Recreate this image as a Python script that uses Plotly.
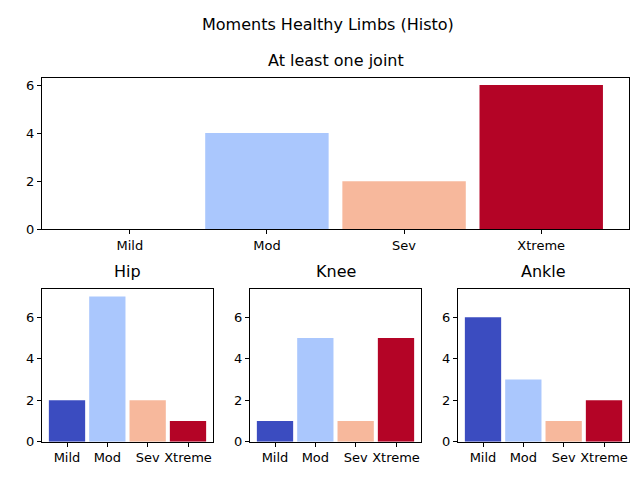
import plotly.graph_objects as go

categories = ["Mild", "Mod", "Sev", "Xtreme"]
colors = ["#3b4cc0", "#aac7fd", "#f7b89c", "#b40426"]
at_least_one = [0, 4, 2, 6]
hip = [2, 7, 2, 1]
knee = [1, 5, 1, 5]
ankle = [6, 3, 1, 2]

W, H = 640, 480
fig = go.Figure()

panels = [
    ("At least one joint", at_least_one, (34, 621), (71, 225), 6.3),
    ("Hip", hip, (34, 205), (286, 441), 7.35),
    ("Knee", knee, (242, 413), (286, 441), 7.35),
    ("Ankle", ankle, (450, 621), (286, 441), 7.35),
]

font = dict(family="DejaVu Sans", size=13, color="black")
layout = dict(width=W, height=H, margin=dict(l=0, r=0, t=0, b=0),
              plot_bgcolor="white", paper_bgcolor="white", showlegend=False,
              bargap=0.1, font=font, annotations=[])

for i, (title, vals, (x0, x1), (y0, y1), ymax) in enumerate(panels):
    n = "" if i == 0 else str(i + 1)
    fig.add_trace(go.Bar(x=list(range(4)), y=vals, marker=dict(color=colors, line=dict(width=0)),
                         width=0.9, xaxis="x" + n, yaxis="y" + n))
    common = dict(showline=True, linecolor="black", linewidth=1, mirror=True,
                  showgrid=False, zeroline=False, ticks="outside", ticklen=4,
                  tickcolor="black", tickfont=font)
    layout["xaxis" + n] = dict(domain=[x0 / W, x1 / W], anchor="y" + n,
                               range=[-0.64 if i == 0 else -0.62, 3.64 if i == 0 else 3.62],
                               tickmode="array", tickvals=list(range(4)), ticktext=categories, **common)
    layout["yaxis" + n] = dict(domain=[1 - y1 / H, 1 - y0 / H], anchor="x" + n,
                               range=[0, ymax], tickmode="array", tickvals=[0, 2, 4, 6], **common)
    layout["annotations"].append(dict(text=title, x=(x0 + x1) / 2 / W, y=1 - (y0 - 6) / H,
                                      xref="paper", yref="paper", showarrow=False,
                                      xanchor="center", yanchor="bottom",
                                      font=dict(family="DejaVu Sans", size=16, color="black")))

layout["annotations"].append(dict(text="Moments Healthy Limbs (Histo)", x=0.5, y=1 - 28 / H,
                                  xref="paper", yref="paper", showarrow=False,
                                  xanchor="center", yanchor="bottom",
                                  font=dict(family="DejaVu Sans", size=16, color="black")))
fig.update_layout(**layout)
fig.write_html("out.html")
